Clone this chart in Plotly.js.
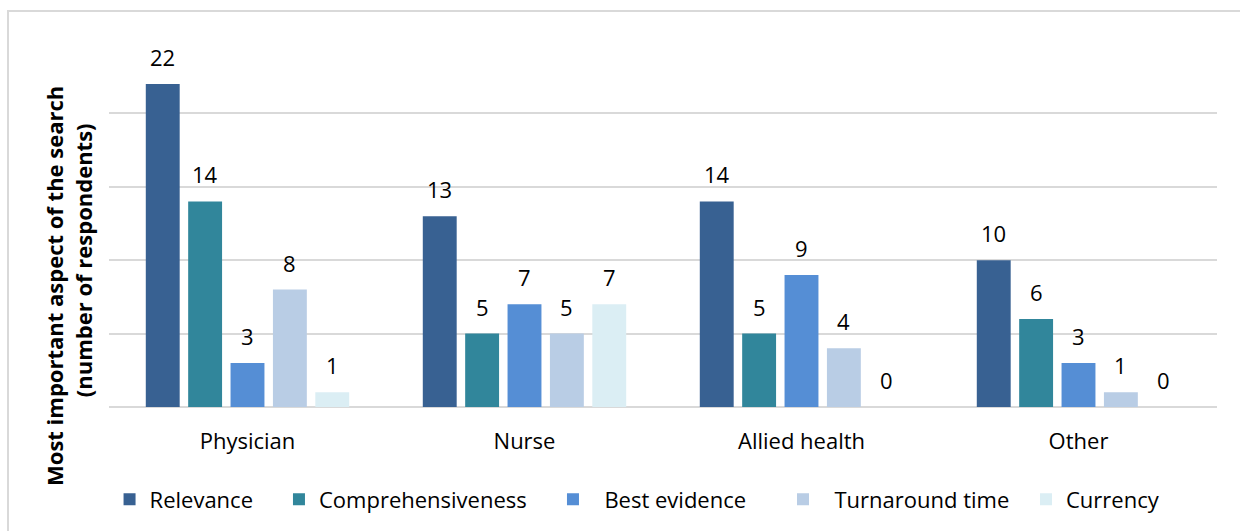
<!DOCTYPE html>
<html>
<head>
<meta charset="utf-8">
<script src="https://cdn.plot.ly/plotly-3.0.1.min.js"></script>
<style>
  html, body { margin: 0; padding: 0; background: #ffffff; }
  #frame { position: absolute; left: 7px; top: 10px; width: 1300px; height: 600px; border: 2px solid #d9d9d9; box-sizing: border-box; }
  #chart { position: absolute; left: 0; top: 0; width: 1240px; height: 531px; }
</style>
</head>
<body>
<div id="frame"></div>
<div id="chart"></div>
<script>
const categories = ["Physician", "Nurse", "Allied health", "Other"];
const seriesNames = ["Relevance", "Comprehensiveness", "Best evidence", "Turnaround time", "Currency"];
const relevance = [22, 13, 14, 10];
const comprehensiveness = [14, 5, 5, 6];
const bestEvidence = [3, 7, 9, 3];
const turnaroundTime = [8, 5, 4, 1];
const currency = [1, 7, 0, 0];
const seriesValues = [relevance, comprehensiveness, bestEvidence, turnaroundTime, currency];
const colors = ["#386192", "#31869b", "#558ed5", "#b9cde5", "#dbeef4"];
const legendPad = ["", "", "\u00a0\u00a0", "\u00a0\u00a0", ""];
const legendX = [0.0005, 0.1534, 0.4007, 0.6083, 0.8276];

const FONT = "'Open Sans', sans-serif";
const bargap = 0.235, bargroupgap = 0.2;
const nS = seriesNames.length;
const slot = (1 - bargap) / nS;
const legendIds = ["legend", "legend2", "legend3", "legend4", "legend5"];

const traces = seriesValues.map((vals, i) => ({
  type: "bar",
  name: legendPad[i] + seriesNames[i],
  legend: legendIds[i],
  x: categories,
  y: vals,
  marker: { color: colors[i], line: { width: 0 } },
  hoverinfo: "x+y+name"
}));

const annotations = [];
seriesValues.forEach((vals, i) => {
  vals.forEach((v, j) => {
    annotations.push({
      x: j + (i - (nS - 1) / 2) * slot,
      y: v,
      xref: "x", yref: "y",
      text: String(v),
      showarrow: false,
      yanchor: "bottom",
      yshift: 10,
      font: { family: FONT, size: 22, color: "#000000" }
    });
  });
});

annotations.push({
  xref: "paper", yref: "paper", x: -0.049, y: 0.329,
  text: "<b>Most important aspect of the search</b>",
  textangle: -90, showarrow: false, xanchor: "center", yanchor: "middle",
  font: { family: FONT, size: 22, color: "#000000" }
});
annotations.push({
  xref: "paper", yref: "paper", x: -0.0235, y: 0.400,
  text: "<b>(number of respondents)</b>",
  textangle: -90, showarrow: false, xanchor: "center", yanchor: "middle",
  font: { family: FONT, size: 22, color: "#000000" }
});

const layout = {
  width: 1240, height: 531,
  margin: { l: 109, r: 23, t: 40, b: 123 },
  paper_bgcolor: "rgba(0,0,0,0)",
  plot_bgcolor: "rgba(0,0,0,0)",
  barmode: "group",
  bargap: bargap,
  bargroupgap: bargroupgap,
  font: { family: FONT, size: 22, color: "#000000" },
  xaxis: {
    type: "category",
    showgrid: false, showline: false, zeroline: false,
    ticks: "",
    ticklabelstandoff: 19,
    tickfont: { family: FONT, size: 22, color: "#000000" }
  },
  yaxis: {
    range: [0, 25],
    dtick: 5,
    showticklabels: false,
    showgrid: true, gridcolor: "#d9d9d9", gridwidth: 2,
    zeroline: true, zerolinecolor: "#d9d9d9", zerolinewidth: 2,
    showline: false, ticks: "", fixedrange: true
  },
  showlegend: true,
  annotations: annotations
};

legendIds.forEach((id, i) => {
  layout[id] = {
    orientation: "h",
    x: legendX[i], xanchor: "left",
    y: -0.2486, yanchor: "middle",
    font: { family: FONT, size: 22, color: "#000000" },
    bgcolor: "rgba(0,0,0,0)",
    borderwidth: 0
  };
});

Plotly.newPlot("chart", traces, layout, { displayModeBar: false, staticPlot: true });
</script>
</body>
</html>
